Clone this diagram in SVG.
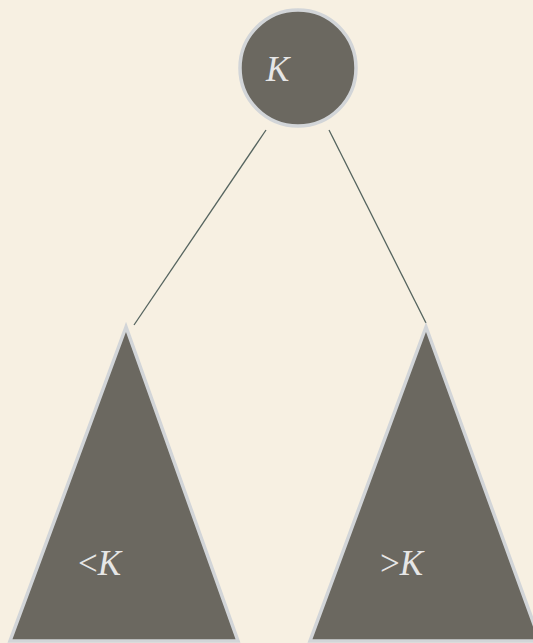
<svg xmlns="http://www.w3.org/2000/svg" width="533" height="643" viewBox="0 0 533 643">
<style>
.node{fill:#6b6860;stroke:#d2d5d8;stroke-width:3.5}
.lbl{font-family:"Liberation Serif","DejaVu Serif",serif;font-style:italic;font-size:35px;fill:#e6e6e6}
.op{font-style:normal}
.edge{stroke:#55645f;stroke-width:1.3;fill:none}
</style>
<rect width="533" height="643" fill="#f7f0e2"/>
<g id="connectors">
<line class="edge" x1="266" y1="130" x2="134" y2="325"/>
<line class="edge" x1="329" y1="130" x2="426" y2="323"/>
</g>
<g id="root">
<circle class="node" cx="298" cy="68" r="58"/>
<text class="lbl" x="266" y="81">K</text>
</g>
<g id="left">
<polygon class="node" points="126,327 10,641 238,641"/>
<text class="lbl" x="78" y="575"><tspan class="op">&lt;</tspan>K</text>
</g>
<g id="right">
<polygon class="node" points="426,327 310,641 540,641"/>
<text class="lbl" x="380" y="575"><tspan class="op">&gt;</tspan>K</text>
</g>
</svg>
